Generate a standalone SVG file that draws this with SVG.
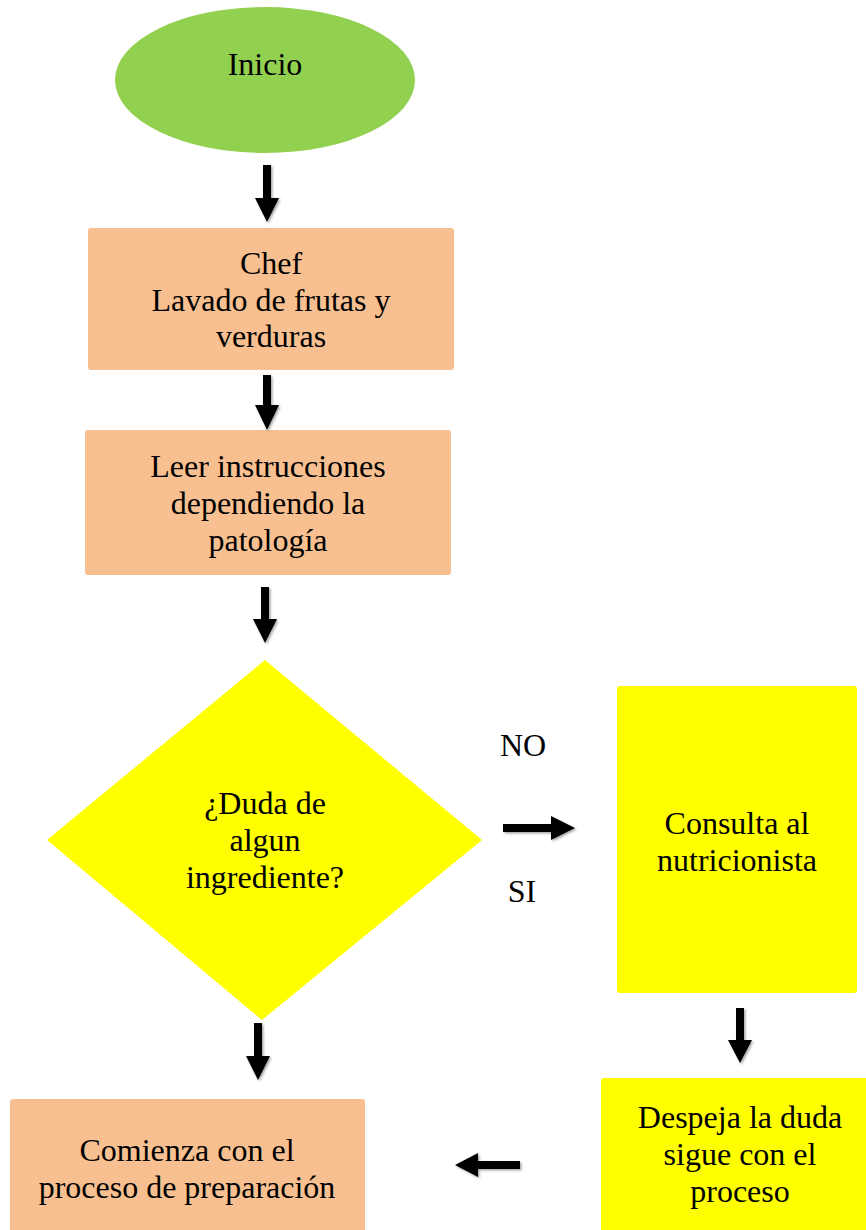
<svg xmlns="http://www.w3.org/2000/svg" width="866" height="1230" viewBox="0 0 866 1230">
  <defs>
    <style>
      .lbl { font-family: 'Liberation Serif', 'Times New Roman', serif; font-size: 32px; fill: #000; text-anchor: middle; }
      .orange { fill: #F8C090; }
      .yellow { fill: #FFFF00; }
      .arrow { fill: #000; }
    </style>
    <filter id="shadow" x="-50%" y="-50%" width="200%" height="200%">
      <feDropShadow dx="1.5" dy="1.5" stdDeviation="1.2" flood-color="#000" flood-opacity="0.35"/>
    </filter>
  </defs>
  <rect width="866" height="1230" fill="#fff"/>

  <g id="inicio">
    <ellipse cx="265" cy="80" rx="150" ry="73" fill="#92D050"/>
    <text class="lbl" x="265" y="75">Inicio</text>
  </g>

  <g id="lavado">
    <rect class="orange" x="88" y="228" width="366" height="142" rx="3"/>
    <text class="lbl" x="271" y="274">Chef</text>
    <text class="lbl" x="271" y="311">Lavado de frutas y</text>
    <text class="lbl" x="271" y="347">verduras</text>
  </g>

  <g id="leer">
    <rect class="orange" x="85" y="430" width="366" height="145" rx="3"/>
    <text class="lbl" x="268" y="477">Leer instrucciones</text>
    <text class="lbl" x="268" y="514">dependiendo la</text>
    <text class="lbl" x="268" y="551">patología</text>
  </g>

  <g id="duda">
    <polygon class="yellow" points="265,660 482,840 262,1020 47,840"/>
    <text class="lbl" x="265" y="814">¿Duda de</text>
    <text class="lbl" x="265" y="851">algun</text>
    <text class="lbl" x="265" y="888">ingrediente?</text>
  </g>

  <g id="consulta">
    <rect class="yellow" x="617" y="686" width="240" height="307" rx="3"/>
    <text class="lbl" x="737" y="834">Consulta al</text>
    <text class="lbl" x="737" y="871">nutricionista</text>
  </g>

  <g id="despeja">
    <rect class="yellow" x="601" y="1078" width="270" height="160" rx="3"/>
    <text class="lbl" x="740" y="1128">Despeja la duda</text>
    <text class="lbl" x="740" y="1165">sigue con el</text>
    <text class="lbl" x="740" y="1202">proceso</text>
  </g>

  <g id="comienza">
    <rect class="orange" x="10" y="1099" width="355" height="140" rx="3"/>
    <text class="lbl" x="187" y="1161">Comienza con el</text>
    <text class="lbl" x="187" y="1198">proceso de preparación</text>
  </g>

  <g id="labels">
    <text class="lbl" x="523" y="756">NO</text>
    <text class="lbl" x="522" y="902">SI</text>
  </g>

  <g id="connectors" filter="url(#shadow)">
    <!-- down arrows: shaft then head -->
    <polygon class="arrow" points="263,165 271,165 271,198 279,198 267,222 255,198 263,198"/>
    <polygon class="arrow" points="263,375 271,375 271,405 279,405 267,430 255,405 263,405"/>
    <polygon class="arrow" points="261,587 269,587 269,619 277,619 265,643 253,619 261,619"/>
    <polygon class="arrow" points="254,1023 262,1023 262,1056 270,1056 258,1080 246,1056 254,1056"/>
    <polygon class="arrow" points="736,1008 744,1008 744,1040 752,1040 740,1063 728,1040 736,1040"/>
    <!-- right arrow -->
    <polygon class="arrow" points="503,824 551,824 551,816 575,828 551,840 551,832 503,832"/>
    <!-- left arrow -->
    <polygon class="arrow" points="520,1161 478,1161 478,1153 455,1165 478,1177 478,1169 520,1169"/>
  </g>
</svg>
